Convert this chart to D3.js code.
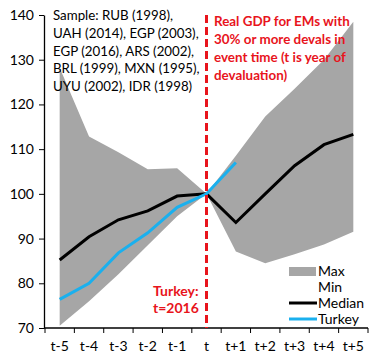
<!DOCTYPE html>
<html><head><meta charset="utf-8">
<script src="https://cdn.jsdelivr.net/npm/d3@7"></script>
<style>body{margin:0;background:#fff}svg{display:block}text{font-family:Lato,"Liberation Sans",sans-serif}</style>
</head><body><svg id="c" width="383" height="359"></svg>
<script>
const categories = ["t-5","t-4","t-3","t-2","t-1","t","t+1","t+2","t+3","t+4","t+5"];
const maxVals = [128.2,112.8,109.3,105.5,105.7,100,108.5,117.3,123.5,130,138.5];
const minVals = [70.5,76,82,88.5,95,100,87.1,84.5,86.5,88.7,91.5];
const medianVals = [85.2,90.4,94.2,96.2,99.5,100,93.6,100,106.3,111,113.3];
const turkeyVals = [76.4,80,86.8,91.3,97,100,107];
const yTicks = [70,80,90,100,110,120,130,140];
const sampleLines = ["Sample: RUB (1998),","UAH (2014), EGP (2003),","EGP (2016), ARS (2002),","BRL (1999), MXN (1995),","UYU (2002), IDR (1998)"];
const titleLines = ["Real GDP for EMs with","30% or more devals in","event time (t is year of","devaluation)"];
const turkeyNote = ["Turkey:","t=2016"];

const svg = d3.select("#c");
const L=45, R=368, T=15, B=328;
const x = d3.scaleBand().domain(categories).range([L,R]);
const y = d3.scaleLinear().domain([70,140]).range([B,T]);
const cx = c => x(c)+x.bandwidth()/2;

const areaData = categories.map((c,i)=>({c,lo:minVals[i],hi:maxVals[i]}));
svg.append("path").datum(areaData)
  .attr("d", d3.area().x(d=>cx(d.c)).y0(d=>y(d.lo)).y1(d=>y(d.hi)))
  .attr("fill","#a6a6a6");

// axes
const ya = svg.append("g").attr("transform",`translate(${L-1},0)`)
  .call(d3.axisLeft(y).tickValues(yTicks).tickSize(5).tickSizeOuter(0));
ya.select(".domain").attr("stroke","#000").attr("stroke-width",1.3);
ya.selectAll("line").attr("stroke","#000");
ya.selectAll("text").attr("font-size",14).attr("x",-10).attr("fill","#000");

const xa = svg.append("g").attr("transform",`translate(0,${B})`);
xa.append("line").attr("x1",L-1).attr("x2",R).attr("stroke","#000").attr("stroke-width",1.3);
const edges = categories.map(c=>x(c)).concat([R]);
xa.selectAll("line.t").data(edges).join("line").attr("class","t")
  .attr("x1",d=>d).attr("x2",d=>d).attr("y1",0).attr("y2",5).attr("stroke","#000");
xa.selectAll("text").data(categories).join("text")
  .attr("x",d=>cx(d)).attr("y",23).attr("text-anchor","middle").attr("font-size",14).text(d=>d);

// lines
const line = d3.line().x((d,i)=>cx(categories[i])).y(d=>y(d));
svg.append("path").datum(medianVals).attr("d",line).attr("fill","none").attr("stroke","#000").attr("stroke-width",3);
svg.append("path").datum(turkeyVals).attr("d",line).attr("fill","none").attr("stroke","#1ab0ee").attr("stroke-width",3);

// dashed event line
svg.append("line").attr("x1",cx("t")).attr("x2",cx("t")).attr("y1",T).attr("y2",B)
  .attr("stroke","#e8141c").attr("stroke-width",3).attr("stroke-dasharray","8,4");

// texts
svg.append("g").selectAll("text").data(sampleLines).join("text")
  .attr("x",53).attr("y",(d,i)=>20+i*17.8).attr("font-size",13.3).attr("fill","#000").text(d=>d);
svg.append("g").selectAll("text").data(titleLines).join("text")
  .attr("x",214).attr("y",(d,i)=>26+i*18).attr("font-size",13.4).attr("font-weight","bold").attr("fill","#e8141c").text(d=>d);
svg.append("g").selectAll("text").data(turkeyNote).join("text")
  .attr("x",153).attr("y",(d,i)=>296+i*16.5).attr("font-size",14).attr("font-weight","bold").attr("fill","#e8141c").text(d=>d);

// legend
const lg = svg.append("g");
lg.append("rect").attr("x",289).attr("y",267).attr("width",27).attr("height",9).attr("fill","#a6a6a6");
lg.append("text").attr("x",318).attr("y",276).attr("font-size",14).text("Max");
lg.append("text").attr("x",318).attr("y",292).attr("font-size",14).text("Min");
lg.append("line").attr("x1",289).attr("x2",317).attr("y1",303).attr("y2",303).attr("stroke","#000").attr("stroke-width",3);
lg.append("text").attr("x",318).attr("y",308).attr("font-size",14).text("Median");
lg.append("line").attr("x1",289).attr("x2",317).attr("y1",319).attr("y2",319).attr("stroke","#1ab0ee").attr("stroke-width",3);
lg.append("text").attr("x",318).attr("y",324).attr("font-size",14).text("Turkey");
</script></body></html>
